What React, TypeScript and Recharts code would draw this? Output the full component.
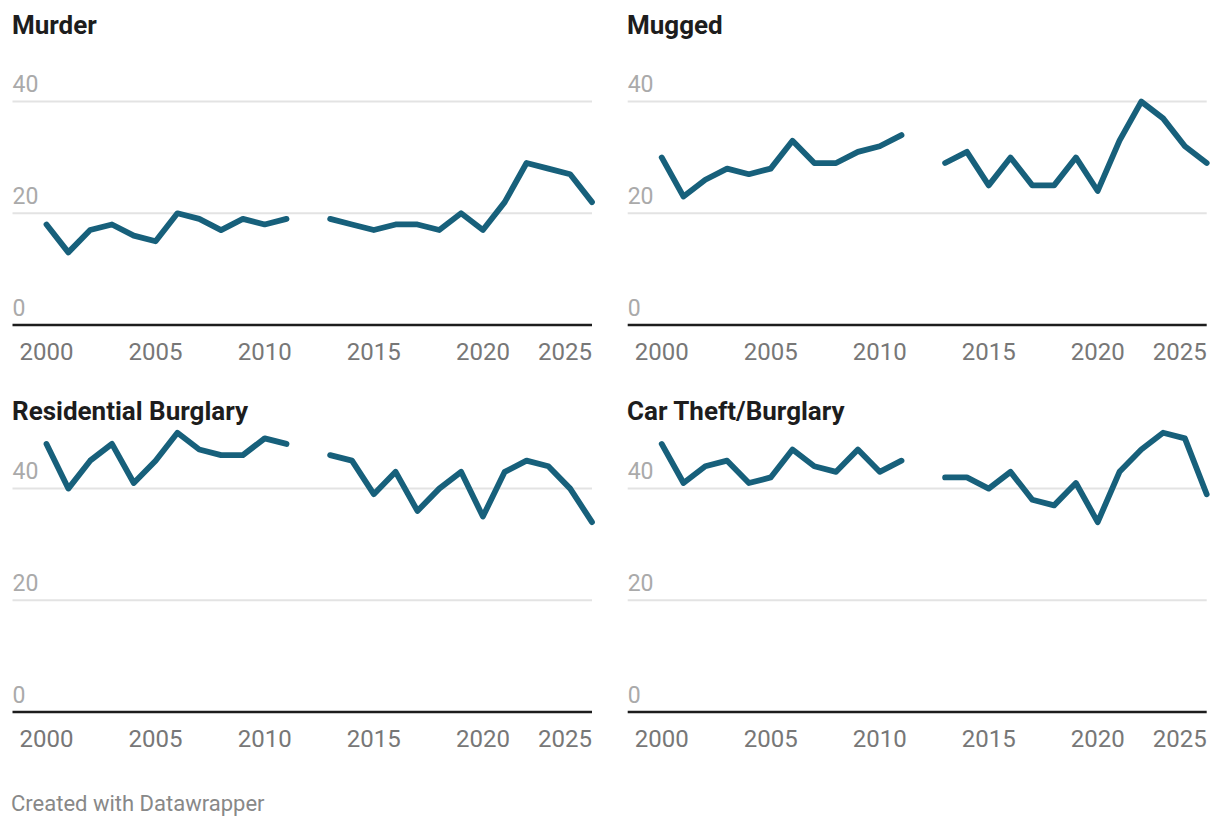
import React from "react";
import { LineChart, Line, XAxis, YAxis, CartesianGrid } from "recharts";

const years = [
  2000, 2001, 2002, 2003, 2004, 2005, 2006, 2007, 2008, 2009, 2010, 2011, 2012,
  2013, 2014, 2015, 2016, 2017, 2018, 2019, 2020, 2021, 2022, 2023, 2024, 2025,
];

// 2012 has no value, so the line breaks there
const murder = [18, 13, 17, 18, 16, 15, 20, 19, 17, 19, 18, 19, null, 19, 18, 17, 18, 18, 17, 20, 17, 22, 29, 28, 27, 22];
const mugged = [30, 23, 26, 28, 27, 28, 33, 29, 29, 31, 32, 34, null, 29, 31, 25, 30, 25, 25, 30, 24, 33, 40, 37, 32, 29];
const residential = [48, 40, 45, 48, 41, 45, 50, 47, 46, 46, 49, 48, null, 46, 45, 39, 43, 36, 40, 43, 35, 43, 45, 44, 40, 34];
const carTheft = [48, 41, 44, 45, 41, 42, 47, 44, 43, 47, 43, 45, null, 42, 42, 40, 43, 38, 37, 41, 34, 43, 47, 50, 49, 39];

const xTicks = [2000, 2005, 2010, 2015, 2020, 2025];
const yTicks = [0, 20, 40];

const LINE = "#17607b";
const FONT = "Roboto, 'Noto Sans', sans-serif";

function XTick(props: any) {
  const { x, y, payload } = props;
  const last = payload.value === xTicks[xTicks.length - 1];
  return (
    <text x={x} y={y + 35} textAnchor={last ? "end" : "middle"} fill="#777" fontSize={24} fontFamily={FONT}>
      {payload.value}
    </text>
  );
}

function YTick(props: any) {
  const { x, y, payload } = props;
  return (
    <text x={x} y={y - 9.5} textAnchor="start" fill="#aaa" fontSize={23} fontFamily={FONT}>
      {payload.value}
    </text>
  );
}

interface PanelProps {
  title: string;
  values: (number | null)[];
  left: number;
  top: number;
  width: number;
  mLeft: number;
  mRight: number;
  titleTop: number;
}

function Panel({ title, values, left, top, width, mLeft, mRight, titleTop }: PanelProps) {
  const data = years.map((year, i) => ({ year, value: values[i] }));
  return (
    <>
      <div
        style={{
          position: "absolute",
          left: left + 12,
          top: titleTop,
          fontFamily: FONT,
          fontWeight: 700,
          fontSize: 26,
          lineHeight: "26px",
          color: "#1d1d1d",
          whiteSpace: "nowrap",
        }}
      >
        {title}
      </div>
      <div style={{ position: "absolute", left, top }}>
        <LineChart width={width} height={380} data={data} margin={{ top: 45.75, right: mRight, bottom: 0, left: mLeft - 1 }}>
          <CartesianGrid horizontal vertical={false} horizontalValues={[20, 40]} stroke="#e3e3e3" strokeWidth={2} />
          <XAxis
            dataKey="year"
            type="number"
            domain={[2000, 2025]}
            ticks={xTicks}
            interval={0}
            padding={{ left: 34, right: 0 }}
            height={55}
            tickSize={0}
            tickMargin={0}
            tickLine={false}
            axisLine={{ stroke: "#1d1d1d", strokeWidth: 2.5 }}
            tick={<XTick />}
          />
          <YAxis
            type="number"
            domain={[0, 50]}
            ticks={yTicks}
            interval={0}
            width={1}
            tickSize={0}
            tickMargin={0}
            axisLine={false}
            tickLine={false}
            tick={<YTick />}
          />
          <Line
            type="linear"
            dataKey="value"
            stroke={LINE}
            strokeWidth={5.8}
            strokeLinecap="round"
            strokeLinejoin="round"
            dot={false}
            activeDot={false}
            isAnimationActive={false}
          />
        </LineChart>
      </div>
    </>
  );
}

export default function App() {
  return (
    <div style={{ position: "absolute", left: 0, top: 0, width: 1220, height: 828, background: "#fff", overflow: "hidden" }}>
      <Panel title="Murder" values={murder} left={0} top={0} width={610} mLeft={12.5} mRight={18} titleTop={12.4} />
      <Panel title="Mugged" values={mugged} left={615} top={0} width={605} mLeft={12.7} mRight={13.3} titleTop={12.4} />
      <Panel title="Residential Burglary" values={residential} left={0} top={386.7} width={610} mLeft={12.5} mRight={18} titleTop={397.6} />
      <Panel title="Car Theft/Burglary" values={carTheft} left={615} top={386.7} width={605} mLeft={12.7} mRight={13.3} titleTop={397.6} />
      <div
        style={{
          position: "absolute",
          left: 11,
          top: 792.5,
          fontFamily: FONT,
          fontSize: 22,
          lineHeight: "22px",
          color: "#888",
          whiteSpace: "nowrap",
        }}
      >
        Created with Datawrapper
      </div>
    </div>
  );
}
